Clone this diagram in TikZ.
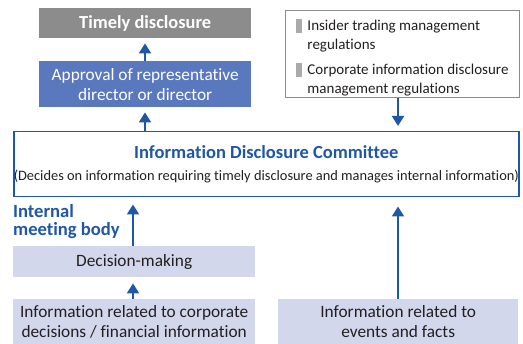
\documentclass[tikz,border=0pt]{standalone}
\usepackage{fontspec}
\setmainfont[Ligatures=NoCommon]{Carlito}
\usepackage{tikz}
\usetikzlibrary{arrows.meta}
\definecolor{discblue}{HTML}{1F57A5}
\definecolor{apprblue}{HTML}{5A78BD}
\definecolor{timegray}{HTML}{8C8C8C}
\definecolor{palebox}{HTML}{D3D7EC}
\definecolor{bargray}{HTML}{ABABAB}
\definecolor{textdark}{HTML}{231F20}
\tikzset{
  flowbox/.style={anchor=north west, inner sep=0pt, align=center, text=textdark},
  flowarrow/.style={-{Triangle[width=12pt,length=10pt]}, line width=2pt, discblue},
}
\newcommand{\regbar}{\makebox[11pt][l]{\textcolor{bargray}{\rule[-2.5pt]{6pt}{14pt}}}}

\begin{document}
\begin{tikzpicture}[x=1pt, y=-1pt, font=\fontsize{17.3}{20}\selectfont]
    \useasboundingbox (0,0) rectangle (523,344);
    % top row
    \node[flowbox, fill=timegray, text=white, font=\fontsize{18.4}{20}\selectfont\bfseries,
          minimum width=212pt, minimum height=30pt] (timely) at (39,8) {Timely disclosure};
    \node[flowbox, fill=apprblue, text=white, minimum width=212pt, minimum height=46pt]
          (approval) at (39,61) {Approval of representative\\director or director};
    \node[flowbox, draw=timegray, line width=1pt, fill=white, align=left,
          font=\fontsize{15}{19}\selectfont,
          minimum width=234pt, minimum height=87pt, inner xsep=10pt] (rules) at (285,10)
          {\rule{0pt}{19.5pt}\regbar Insider trading management\\\hspace*{11pt}regulations\\[6pt]
           \regbar Corporate information disclosure\\\hspace*{11pt}management regulations};
    % committee
    \node[flowbox, draw=discblue, line width=1.5pt, minimum width=505pt, minimum height=65pt,
          font=\fontsize{14.4}{18}\selectfont] (committee) at (13,131)
          {{\color{discblue}\fontsize{18.5}{20}\selectfont\bfseries Information Disclosure Committee}\\[4pt]
           (Decides on information requiring timely disclosure and manages internal information)};
    % lower part
    \node[flowbox, align=left, text=discblue, font=\fontsize{18.6}{18.5}\selectfont\bfseries]
          (meeting) at (13,204) {Internal\\meeting body};
    \node[flowbox, fill=palebox, minimum width=242pt, minimum height=31pt]
          (decision) at (13,246) {Decision-making};
    \node[flowbox, fill=palebox, minimum width=242pt, minimum height=45pt]
          (corpinfo) at (13,299) {Information related to corporate\\decisions / financial information};
    \node[flowbox, fill=palebox, minimum width=240pt, minimum height=45pt]
          (events) at (278,299) {Information related to\\events and facts};
    % arrows
    \draw[flowarrow, shorten >=5pt] (approval.north -| 145,0) -- (timely.south -| 145,0);
    \draw[flowarrow, shorten >=5pt] (committee.north -| 145,0) -- (approval.south -| 145,0);
    \draw[flowarrow, shorten >=5pt] (rules.south -| 398,0) -- (committee.north -| 398,0);
    \draw[flowarrow, shorten >=7pt] (decision.north -| 133,0) -- (committee.south -| 133,0);
    \draw[flowarrow, shorten >=6pt] (corpinfo.north -| 133,0) -- (decision.south -| 133,0);
    \draw[flowarrow, shorten >=9pt] (events.north -| 398,0) -- (committee.south -| 398,0);
\end{tikzpicture}
\end{document}
